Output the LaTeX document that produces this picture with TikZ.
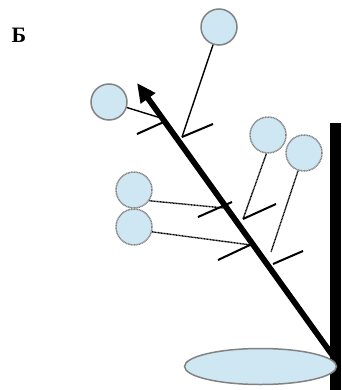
\documentclass[tikz,border=0pt]{standalone}
\usepackage{fontspec}
\setmainfont{Liberation Serif}
\usetikzlibrary{arrows.meta,shapes.geometric}
\definecolor{bubble}{RGB}{207,230,243}
\definecolor{rim}{RGB}{130,130,130}
\tikzset{
  ball/.style={circle, draw=rim, fill=bubble, line width=1.5pt, minimum size=36pt, inner sep=0pt},
  dball/.style={ball, dash pattern=on 1pt off 0.6pt},
  twig/.style={line width=1.4pt},
  dtwig/.style={line width=1.4pt, dash pattern=on 1pt off 0.5pt},
  tick/.style={line width=2pt},
}
\begin{document}
\begin{tikzpicture}[x=1pt,y=-1pt]
\useasboundingbox (0,0) rectangle (341,390);
% label
\node[font=\bfseries\fontsize{22}{22}\selectfont, inner sep=0pt] (lab) at (19,35) {Б};
% vertical bar
\fill (330,123) rectangle (341,390);
% main stem
\coordinate (base) at (333,356);
\coordinate (tip) at (137,83);
\draw[line width=5.8pt, -{Triangle[length=19pt,width=17pt]}] (base) -- (tip);
% ellipse
\node[ellipse, draw=rim, fill=bubble, line width=1.5pt, minimum width=152pt, minimum height=36pt, inner sep=0pt] (pool) at (260.5,366.5) {};
% ticks
\coordinate (tA1) at (137,134); \coordinate (tA2) at (166,121);
\coordinate (tB1) at (182,137); \coordinate (tB2) at (213,124);
\coordinate (tC1) at (198,217); \coordinate (tC2) at (232,202);
\coordinate (tD1) at (243,219); \coordinate (tD2) at (276,204);
\coordinate (tE1) at (218,260); \coordinate (tE2) at (252,244);
\coordinate (tF1) at (273,264); \coordinate (tF2) at (303,251);
\draw[tick] (tA1) -- (tA2);
\draw[tick] (tB1) -- (tB2);
\draw[tick] (tC1) -- (tC2);
\draw[tick] (tD1) -- (tD2);
\draw[tick] (tE1) -- (tE2);
\draw[tick] (tF1) -- (tF2);
% connection points
\coordinate (p1) at (182,137);
\coordinate (p2) at (164,119);
\coordinate (p3) at (243,219);
\coordinate (p4) at (271,252);
\coordinate (p5) at (224,208);
\coordinate (p6) at (251,245);
% balls
\node[ball] (c1) at (219,27) {};
\node[ball] (c2) at (109,102) {};
\node[dball] (c3) at (268,135) {};
\node[dball] (c4) at (304,153) {};
\node[dball] (c5) at (134,190) {};
\node[dball] (c6) at (134,227) {};
% connectors
\draw[twig] (c1) -- (p1);
\draw[twig] (c2) -- (p2);
\draw[dtwig] (c3.-95) -- (p3);
\draw[dtwig] (c4) -- (p4);
\draw[dtwig] (c5.-35) -- (p5);
\draw[dtwig] (c6.-15) -- (p6);
\end{tikzpicture}
\end{document}
